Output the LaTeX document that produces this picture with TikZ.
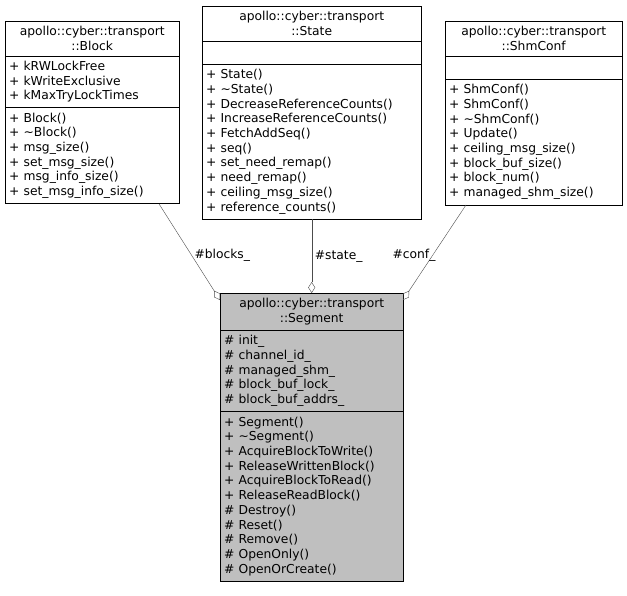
\documentclass[tikz,border=0pt]{standalone}
\usepackage{fontspec}
\setmainfont{DejaVu Sans}
\usetikzlibrary{shapes.multipart,arrows.meta}
\tikzset{
  cls/.style={rectangle split,rectangle split parts=3,draw,anchor=north west,
    rectangle split ignore empty parts=false,inner xsep=4pt,inner ysep=5pt,
    font=\fontsize{12.3}{14.7}\selectfont,align=left},
  agg/.style={draw=black!70,{Diamond[open,length=11pt,width=7pt]}-},
  lbl/.style={font=\fontsize{12.3}{14}\selectfont,inner sep=1pt}
}
\newcommand{\ttl}[2]{\centering #1\\#2\par}
\begin{document}
\begin{tikzpicture}[x=1pt,y=-1pt]
\useasboundingbox (0,0) rectangle (627,595);
\node[cls,text width=166pt] (block) at (5,21)
  {\ttl{apollo::cyber::transport}{::Block}
   \nodepart{two}+ kRWLockFree\\+ kWriteExclusive\\+ kMaxTryLockTimes
   \nodepart{three}+ Block()\\+ \textasciitilde Block()\\+ msg\_size()\\+ set\_msg\_size()\\+ msg\_info\_size()\\+ set\_msg\_info\_size()};
\node[cls,text width=211pt] (state) at (202,6)
  {\ttl{apollo::cyber::transport}{::State}
   \nodepart{two}\rule{0pt}{13pt}
   \nodepart{three}+ State()\\+ \textasciitilde State()\\+ DecreaseReferenceCounts()\\+ IncreaseReferenceCounts()\\+ FetchAddSeq()\\+ seq()\\+ set\_need\_remap()\\+ need\_remap()\\+ ceiling\_msg\_size()\\+ reference\_counts()};
\node[cls,text width=169pt] (shm) at (445,21)
  {\ttl{apollo::cyber::transport}{::ShmConf}
   \nodepart{two}\rule{0pt}{13pt}
   \nodepart{three}+ ShmConf()\\+ ShmConf()\\+ \textasciitilde ShmConf()\\+ Update()\\+ ceiling\_msg\_size()\\+ block\_buf\_size()\\+ block\_num()\\+ managed\_shm\_size()};
\node[cls,text width=175pt,fill=black!25] (seg) at (220,293)
  {\ttl{apollo::cyber::transport}{::Segment}
   \nodepart{two}\# init\_\\\# channel\_id\_\\\# managed\_shm\_\\\# block\_buf\_lock\_\\\# block\_buf\_addrs\_
   \nodepart{three}+ Segment()\\+ \textasciitilde Segment()\\+ AcquireBlockToWrite()\\+ ReleaseWrittenBlock()\\+ AcquireBlockToRead()\\+ ReleaseReadBlock()\\\# Destroy()\\\# Reset()\\\# Remove()\\\# OpenOnly()\\\# OpenOrCreate()};
\coordinate (segL) at (220,300);
\coordinate (segR) at (403,300);
\draw[agg] (segL) -- (block.south -| 159,0) node[lbl,pos=0.47,right=2pt] {\#blocks\_};
\draw[agg] (seg.north) -- (state.south) node[lbl,pos=0.5,right=2pt] {\#state\_};
\draw[agg] (segR) -- (shm.south -| 466,0) node[lbl,pos=0.47,left=-4pt] {\#conf\_};
\end{tikzpicture}
\end{document}
